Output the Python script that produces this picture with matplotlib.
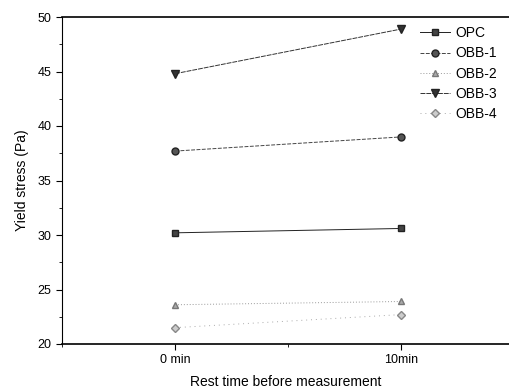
import matplotlib
matplotlib.use('Agg')
import matplotlib.pyplot as plt
from matplotlib.ticker import MultipleLocator

plt.rcParams['font.family'] = ['Liberation Sans', 'DejaVu Sans']

# data
times = ["0 min", "10min"]
opc = [30.2, 30.6]
obb1 = [37.7, 39.0]
obb2 = [23.6, 23.9]
obb3 = [44.8, 48.9]
obb4 = [21.5, 22.7]

x = [0, 1]

fig = plt.figure(figsize=(5.1, 3.92), dpi=100)
ax = fig.add_axes([62/510, 1-344/392, 1-62/510, (344-17)/392])

ax.plot(x, opc, color='#222222', ls='-', lw=0.7, marker='s', ms=5, mfc='#444444', mec='#222222', label='OPC')
ax.plot(x, obb1, color='#444444', ls=(0, (4, 1.5)), lw=0.7, marker='o', ms=5, mfc='#555555', mec='#222222', label='OBB-1')
ax.plot(x, obb2, color='#999999', ls=(0, (1, 2)), lw=0.7, marker='^', ms=5, mfc='#aaaaaa', mec='#777777', label='OBB-2')
ax.plot(x, obb3, color='#333333', ls=(0, (5, 1)), lw=0.7, marker='v', ms=6, mfc='#333333', mec='#222222', label='OBB-3')
ax.plot(x, obb4, color='#aaaaaa', ls=(0, (1, 4)), lw=0.7, marker='D', ms=4.5, mfc='#cccccc', mec='#888888', label='OBB-4')

ax.set_xlim(-0.5, 1.48)
ax.set_ylim(20, 50)
ax.set_xticks(x)
ax.set_xticklabels(times)
ax.xaxis.set_minor_locator(MultipleLocator(0.5))
ax.yaxis.set_major_locator(MultipleLocator(5))
ax.yaxis.set_minor_locator(MultipleLocator(2.5))
ax.tick_params(which='major', direction='out', length=4, width=0.8, labelsize=9)
ax.tick_params(which='minor', direction='out', length=2, width=0.6)
ax.spines['right'].set_visible(False)
ax.spines['top'].set_linewidth(1.2)
ax.spines['bottom'].set_linewidth(1.2)

ax.set_xlabel("Rest time before measurement", fontsize=10, labelpad=6)
ax.set_ylabel("Yield stress (Pa)", fontsize=10, labelpad=6)

ax.legend(loc='upper right', bbox_to_anchor=(1.0, 1.01), frameon=False, fontsize=10,
          handlelength=2.2, handletextpad=0.4, labelspacing=0.45)

plt.savefig('out.png', dpi=100)
